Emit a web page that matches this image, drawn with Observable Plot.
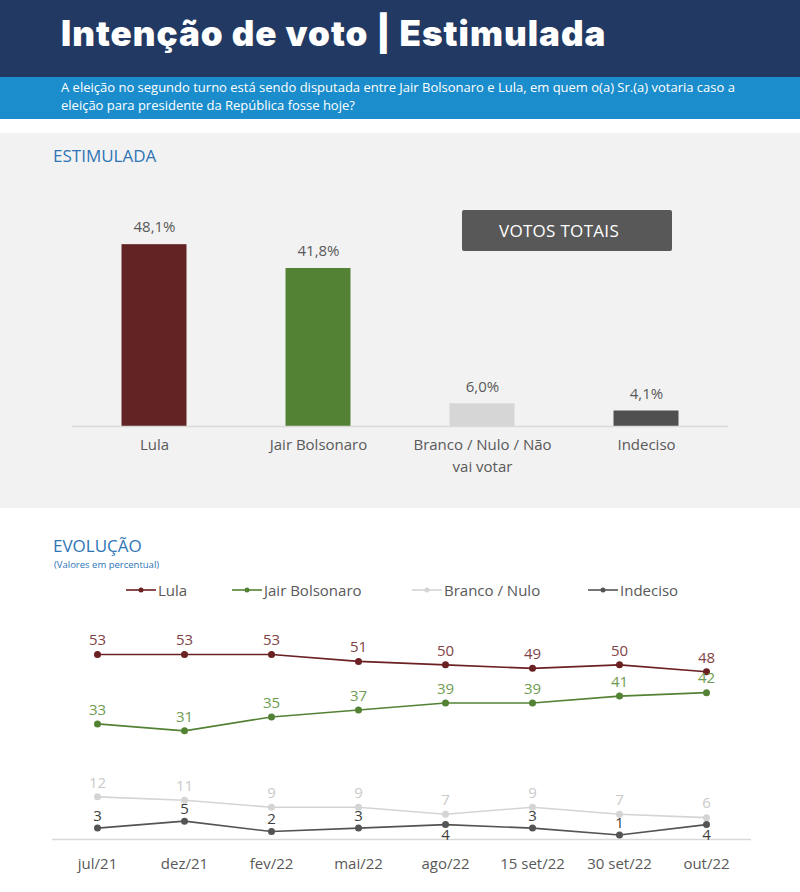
<!DOCTYPE html>
<html>
<head>
<meta charset="utf-8">
<script src="https://cdn.jsdelivr.net/npm/d3@7"></script>
<script src="https://cdn.jsdelivr.net/npm/@observablehq/plot@0.6"></script>
<style>
  html, body { margin: 0; padding: 0; background: #ffffff; }
  body { width: 800px; height: 892px; position: relative; overflow: hidden; font-family: "Open Sans", sans-serif; }
  .abs { position: absolute; }
  #header { left: 0; top: 0; width: 800px; height: 77px; background: #223a63; }
  #title { left: 61px; top: 10px; color: #fff; font-family: Inter, sans-serif; font-weight: 900; font-size: 35px; line-height: 46px; letter-spacing: 1px; white-space: nowrap; }
  #band { left: 0; top: 77px; width: 800px; height: 42px; background: #1b8dcc; }
  .subline { left: 61px; color: #fff; font-size: 13px; line-height: 15px; white-space: nowrap; }
  #panel { left: 0; top: 133px; width: 800px; height: 375px; background: #f2f2f2; }
  .heading { color: #2e75b6; font-size: 17px; line-height: 20px; white-space: nowrap; }
  #votos { left: 462px; top: 210px; width: 210px; height: 41px; background: #585858; border-radius: 2px; color: #fff; font-size: 17px; line-height: 41px; text-align: center; letter-spacing: 0.3px; }
  #votos span { position: relative; left: -8px; }
  #sub2 { left: 54px; top: 559px; color: #2e75b6; font-size: 9.5px; line-height: 12px; white-space: nowrap; }
  .leg { top: 580px; height: 20px; display: flex; align-items: center; font-size: 15px; color: #595959; white-space: nowrap; }
  .leg svg { margin-right: 2px; }
</style>
</head>
<body>
<div id="header" class="abs"></div>
<div id="title" class="abs">Intenção de voto | Estimulada</div>
<div id="band" class="abs"></div>
<div class="abs subline" style="top:80px;">A eleição no segundo turno está sendo disputada entre Jair Bolsonaro e Lula, em quem o(a) Sr.(a) votaria caso a</div>
<div class="abs subline" style="top:98px;">eleição para presidente da República fosse hoje?</div>
<div id="panel" class="abs"></div>
<div class="abs heading" style="left:53px; top:146px;">ESTIMULADA</div>
<div id="barchart" class="abs" style="left:0; top:133px;"></div>
<div id="votos" class="abs"><span>VOTOS TOTAIS</span></div>
<div class="abs heading" style="left:53px; top:536px;">EVOLUÇÃO</div>
<div id="sub2" class="abs">(Valores em percentual)</div>
<div id="legend"></div>
<div id="linechart" class="abs" style="left:0; top:610px;"></div>
<script>
// ---- Data: first-round stimulated vote ----
const categories = ["Lula", "Jair Bolsonaro", "Branco / Nulo / Não vai votar", "Indeciso"];
const categoryLabels = ["Lula", "Jair Bolsonaro", "Branco / Nulo / Não\nvai votar", "Indeciso"];
const totals = [48.1, 41.8, 6.0, 4.1];

// ---- Data: evolution ----
const dates = ["jul/21", "dez/21", "fev/22", "mai/22", "ago/22", "15 set/22", "30 set/22", "out/22"];
const seriesNames = ["Lula", "Jair Bolsonaro", "Branco / Nulo", "Indeciso"];
const lula = [53, 53, 53, 51, 50, 49, 50, 48];
const bolsonaro = [33, 31, 35, 37, 39, 39, 41, 42];
const brancoNulo = [12, 11, 9, 9, 7, 9, 7, 6];
const indeciso = [3, 5, 2, 3, 4, 3, 1, 4];

// ---- Styles ----
const barColors = ["#632223", "#548235", "#d6d6d6", "#505050"];
const lineColors = ["#6b2022", "#548235", "#d4d4d4", "#545454"];
const labelColors = ["#7f4446", "#6f9c52", "#cacaca", "#404040"];
const font = "Open Sans, sans-serif";

// ---- Bar chart ----
const barData = categories.map((c, i) => ({category: c, label: categoryLabels[i], value: totals[i]}));
const fmtPct = v => v.toFixed(1).replace(".", ",") + "%";

const bar = Plot.plot({
  width: 800, height: 375,
  marginLeft: 72, marginRight: 72, marginTop: 104, marginBottom: 82,
  style: {background: "transparent", fontFamily: font},
  x: {domain: categories, padding: 0, axis: null},
  y: {domain: [0, 50], axis: null},
  color: {domain: categories, range: barColors},
  marks: [
    Plot.barY(barData, {x: "category", y: "value", fill: "category", insetLeft: 49.5, insetRight: 49.5}),
    Plot.ruleY([0], {stroke: "#d9d9d9", strokeWidth: 1.5}),
    Plot.text(barData, {x: "category", y: "value", text: d => fmtPct(d.value), dy: -17, fontSize: 15, fill: "#595959"}),
    Plot.text(barData, {x: "category", y: 0, text: "label", lineAnchor: "top", dy: 8, lineHeight: 1.47, fontSize: 15, fill: "#595959"})
  ]
});
document.getElementById("barchart").appendChild(bar);

// ---- Line chart ----
const seriesValues = [lula, bolsonaro, brancoNulo, indeciso];
const labelBelow = new Set(["Indeciso|ago/22", "Indeciso|out/22"]);
const marks = [Plot.ruleY([0], {stroke: "#d9d9d9", strokeWidth: 1.5, dy: 1}),
  Plot.axisX({tickSize: 0, tickPadding: 20, fontSize: 15, color: "#595959", label: null})];
seriesNames.forEach((name, si) => {
  const rows = dates.map((d, i) => ({date: d, value: seriesValues[si][i], series: name}));
  marks.push(Plot.line(rows, {x: "date", y: "value", stroke: lineColors[si], strokeWidth: 1.6}));
  marks.push(Plot.dot(rows, {x: "date", y: "value", fill: lineColors[si], r: 3.5}));
  const above = rows.filter(r => !labelBelow.has(name + "|" + r.date));
  const below = rows.filter(r => labelBelow.has(name + "|" + r.date));
  marks.push(Plot.text(above, {x: "date", y: "value", text: d => String(d.value), dy: name === "Indeciso" ? -12 : -14, fontSize: 15, fill: labelColors[si]}));
  marks.push(Plot.text(below, {x: "date", y: "value", text: d => String(d.value), dy: 11, fontSize: 15, fill: labelColors[si]}));
});

const line = Plot.plot({
  width: 800, height: 282,
  marginLeft: 52, marginRight: 49, marginTop: 37, marginBottom: 54,
  style: {background: "transparent", fontFamily: font},
  x: {type: "point", domain: dates, padding: 0.5, axis: null},
  y: {domain: [0, 55], axis: null},
  marks
});
document.getElementById("linechart").appendChild(line);

// ---- Legend ----
const legendLeft = [126, 232, 412, 588];
const legend = document.getElementById("legend");
seriesNames.forEach((name, si) => {
  const item = document.createElement("div");
  item.className = "abs leg";
  item.style.left = legendLeft[si] + "px";
  item.innerHTML = `<svg width="30" height="10"><line x1="0" x2="30" y1="5" y2="5" stroke="${lineColors[si]}" stroke-width="1.6"/><circle cx="15" cy="5" r="2.5" fill="${lineColors[si]}"/></svg>`;
  const t = document.createElement("span");
  t.textContent = name;
  item.appendChild(t);
  legend.appendChild(item);
});
</script>
</body>
</html>
